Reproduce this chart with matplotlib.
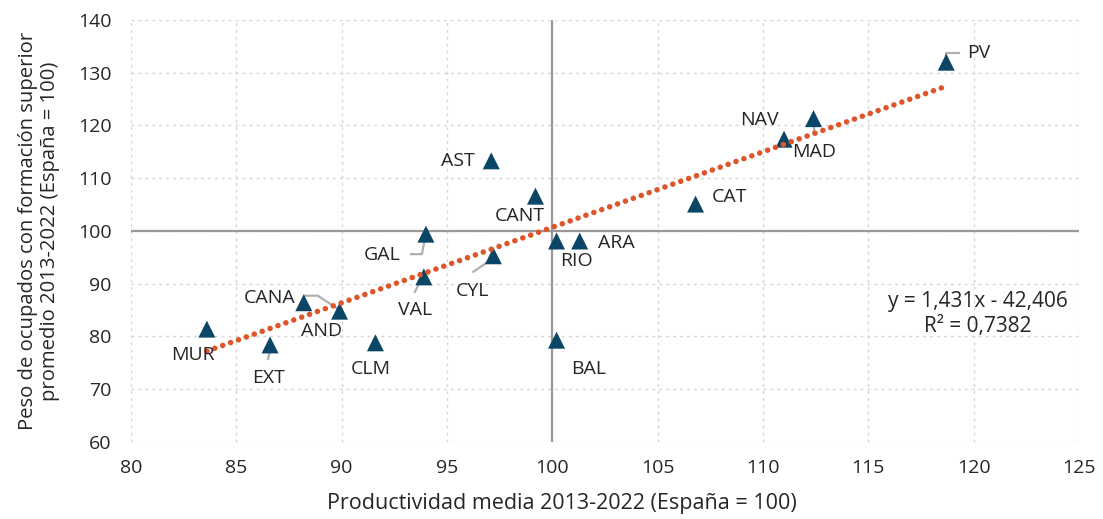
import numpy as np
import matplotlib
matplotlib.use('Agg')
import matplotlib.pyplot as plt

plt.rcParams['font.family'] = ['Open Sans', 'DejaVu Sans']

# datos: productividad (x) y peso de ocupados con formacion superior (y), Espana = 100
regions = ['PV', 'NAV', 'MAD', 'CAT', 'AST', 'CANT', 'GAL', 'RIO', 'ARA',
           'CYL', 'VAL', 'BAL', 'CLM', 'AND', 'CANA', 'EXT', 'MUR']
productividad = [118.7, 112.4, 111.0, 106.8, 97.1, 99.2, 94.0, 100.2, 101.3,
                 97.2, 93.9, 100.2, 91.6, 89.9, 88.2, 86.6, 83.6]
formacion = [132.0, 121.3, 117.4, 105.1, 113.3, 106.6, 99.4, 98.1, 98.1,
             95.3, 91.3, 79.3, 78.8, 84.8, 86.4, 78.4, 81.4]
slope = 1.431
intercept = -42.406
r2 = 0.7382

# posicion de etiquetas en pixeles (dx, dy hacia abajo, alineacion)
label_pos = {
    'PV': (21, -9, 'left'), 'NAV': (-35, 1, 'right'), 'MAD': (30, 13, 'center'),
    'CAT': (16, -7, 'left'), 'AST': (-16, 0, 'right'), 'CANT': (-16, 20, 'center'),
    'GAL': (-25, 21, 'right'), 'RIO': (20, 20, 'center'), 'ARA': (18, 2, 'left'),
    'CYL': (-21, 35, 'center'), 'VAL': (-9, 33, 'center'), 'BAL': (15, 29, 'left'),
    'CLM': (-5, 26, 'center'), 'AND': (-18, 20, 'center'), 'CANA': (-8, -5, 'right'),
    'EXT': (-2, 33, 'center'), 'MUR': (-14, 26, 'center'),
}
# lineas guia en pixeles relativos al punto
leaders = {
    'PV': [(0, -4), (0, -9), (13, -9)],
    'NAV': [(0, 2), (0, 14)],
    'GAL': [(-15, 20), (-4, 20), (-1, 4)],
    'CYL': [(-20, 16), (-1, 3)],
    'VAL': [(-9, 15), (-2, 2)],
    'CANA': [(1, -7), (14, -7), (34, 6)],
    'EXT': [(-2, 14), (1, 2)],
}

navy = '#0b4666'
orange = '#de552a'
text_col = '#262626'

fig = plt.figure(figsize=(11.03, 5.19), dpi=100)
ax = fig.add_axes([0.1188, 0.1484, 0.8594, 0.8131])
ax.set_xlim(80, 125)
ax.set_ylim(60, 140)
ax.set_xticks(np.arange(80, 126, 5))
ax.set_yticks(np.arange(60, 141, 10))

ax.grid(True, linestyle=(0, (2, 3)), color='#d4d4d4', linewidth=1)
ax.set_axisbelow(True)
for s in ax.spines.values():
    s.set_visible(False)
ax.tick_params(length=0, labelsize=14, labelcolor=text_col, pad=12)
ax.tick_params(axis='y', pad=14)

ax.axvline(100, color='#999999', lw=1.6, zorder=1)
ax.axhline(100, color='#999999', lw=1.6, zorder=1)

# tendencia
xs = np.array([min(productividad), max(productividad)])
ax.plot(xs, slope * xs + intercept, color=orange, lw=4,
        linestyle=(0, (0.01, 1.5)), dash_capstyle='round', zorder=4)

ax.scatter(productividad, formacion, marker='^', s=150, color=navy,
           edgecolors='none', zorder=3)

fig.canvas.draw()
for name, x, y in zip(regions, productividad, formacion):
    px, py = ax.transData.transform((x, y))
    if name in leaders:
        pts = [ax.transData.inverted().transform((px + dx, py - dy))
               for dx, dy in leaders[name]]
        pts = np.array(pts)
        ax.plot(pts[:, 0], pts[:, 1], color='#b0b0b0', lw=1.6, zorder=2)
    dx, dy, ha = label_pos[name]
    ax.annotate(name, (x, y), xytext=(dx * 0.72, -dy * 0.72),
                textcoords='offset points', ha=ha, va='center',
                fontsize=14, color=text_col, zorder=5)

ax.text(0.893, 0.333, f'y = {slope:.3f}x - {abs(intercept):.3f}'.replace('.', ','),
        transform=ax.transAxes, ha='center', va='center', fontsize=15,
        color=text_col)
ax.text(0.893, 0.274, f'R² = {r2:.4f}'.replace('.', ','),
        transform=ax.transAxes, ha='center', va='center', fontsize=15,
        color=text_col)

ax.set_xlabel('Productividad media 2013-2022 (España = 100)', fontsize=15.5,
              color=text_col)
ax.xaxis.set_label_coords(0.455, -0.122)
ax.set_ylabel('Peso de ocupados con formación superior\npromedio 2013-2022 (España = 100)',
              fontsize=14.6, color=text_col, linespacing=1.12)
ax.yaxis.set_label_coords(-0.075, 0.5)

fig.savefig('out.png', dpi=100)
